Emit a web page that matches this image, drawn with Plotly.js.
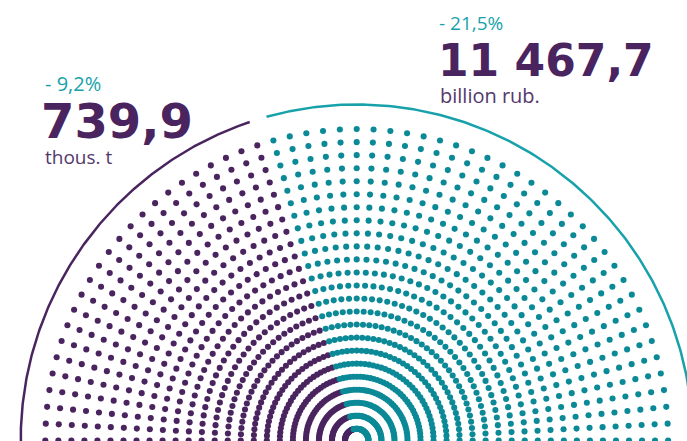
<!DOCTYPE html>
<html><head><meta charset="utf-8">
<script src="https://cdn.plot.ly/plotly-3.0.1.min.js"></script>
<style>html,body{margin:0;padding:0;background:#fff;}#chart{width:687px;height:441px;}</style>
</head><body><div id="chart"></div>
<script>
// ---- data ----
const ringCount = 24;             // concentric dotted rings
const dotsPerRing = 59;           // dots on each half ring
const purpleDotsPerRing = 24;     // left share (thous. t)
const tealDotsPerRing = 35;       // right share (billion rub.)
const seriesNames = ["thous. t", "billion rub."];
const totals = ["739,9", "11 467,7"];
const changes = ["- 9,2%", "- 21,5%"];

// ---- geometry (pixel units) ----
const W = 687, H = 441;
const CX = 356.7, CY = 440.5;
const innerR = 11.7, ringGap = 13.03, arcR = 336;
const step = 180 / (dotsPerRing - 1);
const PURPLE = '#4a245f', TEAL = '#0b8997', TEAL_L = '#17a2ab';

function dots(k0, k1) {
  const x = [], y = [];
  for (let i = 0; i < ringCount; i++) {
    const r = innerR + ringGap * i;
    for (let k = k0; k < k1; k++) {
      const a = (180 - k * step) * Math.PI / 180;
      x.push(r * Math.cos(a)); y.push(r * Math.sin(a));
    }
  }
  return {x, y};
}
function arc(a0, a1) {
  const x = [], y = [];
  const n = 200;
  for (let j = 0; j <= n; j++) {
    const a = (a0 + (a1 - a0) * j / n) * Math.PI / 180;
    x.push(arcR * Math.cos(a)); y.push(arcR * Math.sin(a));
  }
  return {x, y};
}
const pd = dots(0, purpleDotsPerRing);
const td = dots(purpleDotsPerRing, purpleDotsPerRing + tealDotsPerRing);
const boundary = 180 - (purpleDotsPerRing - 0.5) * step;
const pa = arc(182, boundary + 1.5);
const ta = arc(boundary - 1.5, -2);

const traces = [
  {type:'scatter', mode:'lines', x:pa.x, y:pa.y, line:{color:PURPLE, width:2.5}, hoverinfo:'skip', name:seriesNames[0]},
  {type:'scatter', mode:'lines', x:ta.x, y:ta.y, line:{color:TEAL_L, width:2.5}, hoverinfo:'skip', name:seriesNames[1]},
  {type:'scatter', mode:'markers', x:pd.x, y:pd.y, marker:{color:PURPLE, size:6.1}, hoverinfo:'skip', name:seriesNames[0]},
  {type:'scatter', mode:'markers', x:td.x, y:td.y, marker:{color:TEAL, size:6.1}, hoverinfo:'skip', name:seriesNames[1]}
];

function px(X){return X - CX;}
function py(Y){return CY - Y;}
const ann = [
  {text:changes[0], x:px(44), y:py(83), font:{family:'Open Sans', size:20, color:TEAL_L, weight:400}},
  {text:'<b>'+totals[0]+'</b>', x:px(40), y:py(121), font:{family:'DejaVu Sans', size:48, color:PURPLE}},
  {text:seriesNames[0], x:px(44), y:py(157), font:{family:'Open Sans', size:19, color:'#55386b', weight:400}},
  {text:changes[1], x:px(438), y:py(23), font:{family:'Open Sans', size:19, color:TEAL_L, weight:400}},
  {text:'<b>'+totals[1]+'</b>', x:px(437), y:py(60), font:{family:'DejaVu Sans', size:44, color:PURPLE}},
  {text:seriesNames[1], x:px(439), y:py(95), font:{family:'Open Sans', size:20, color:'#55386b', weight:400}}
].map(a => Object.assign({xref:'x', yref:'y', xanchor:'left', yanchor:'middle', showarrow:false, borderpad:0}, a));

const layout = {
  width:W, height:H, margin:{l:0,r:0,t:0,b:0},
  paper_bgcolor:'#fff', plot_bgcolor:'#fff', showlegend:false,
  xaxis:{range:[-CX, W-CX], visible:false, fixedrange:true},
  yaxis:{range:[CY-H, CY], visible:false, fixedrange:true},
  annotations:ann
};
Plotly.newPlot('chart', traces, layout, {staticPlot:true, displayModeBar:false});
</script></body></html>
